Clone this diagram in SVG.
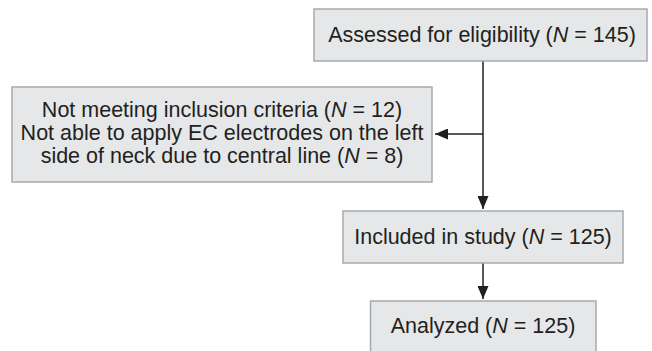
<svg xmlns="http://www.w3.org/2000/svg" width="652" height="351" viewBox="0 0 652 351">
<style>
.box{fill:#e6e7e8;stroke:#a7a9ac;stroke-width:1.5}
.t{font-family:"Liberation Sans",Arial,sans-serif;font-size:21.5px;fill:#231f20;text-anchor:middle}
.ln{stroke:#231f20;stroke-width:1.5;fill:none}
</style>
<defs>
<marker id="ah" markerWidth="13" markerHeight="11" refX="13" refY="5.5" orient="auto" markerUnits="userSpaceOnUse">
<path d="M0,0 L13,5.5 L0,11 Z" fill="#231f20"/>
</marker>
</defs>
<rect width="652" height="351" fill="#fff"/>
<g id="connectors">
<line class="ln" x1="483" y1="61" x2="483" y2="209" marker-end="url(#ah)"/>
<line class="ln" x1="483" y1="134" x2="435" y2="134" marker-end="url(#ah)"/>
<line class="ln" x1="483" y1="263" x2="483" y2="299" marker-end="url(#ah)"/>
</g>
<g id="assessed">
<rect class="box" x="314" y="9" width="333" height="52"/>
<text class="t" x="482" y="42">Assessed for eligibility (<tspan font-style="italic">N</tspan> = 145)</text>
</g>
<g id="excluded">
<rect class="box" x="12" y="87" width="420" height="95"/>
<text class="t" x="222" y="117">Not meeting inclusion criteria (<tspan font-style="italic">N</tspan> = 12)</text>
<text class="t" x="222" y="140">Not able to apply EC electrodes on the left</text>
<text class="t" x="222" y="163">side of neck due to central line (<tspan font-style="italic">N</tspan> = 8)</text>
</g>
<g id="included">
<rect class="box" x="343" y="211" width="280" height="52"/>
<text class="t" x="483" y="244">Included in study (<tspan font-style="italic">N</tspan> = 125)</text>
</g>
<g id="analyzed">
<rect class="box" x="370.5" y="301" width="225.5" height="60"/>
<text class="t" x="483" y="333">Analyzed (<tspan font-style="italic">N</tspan> = 125)</text>
</g>
</svg>
